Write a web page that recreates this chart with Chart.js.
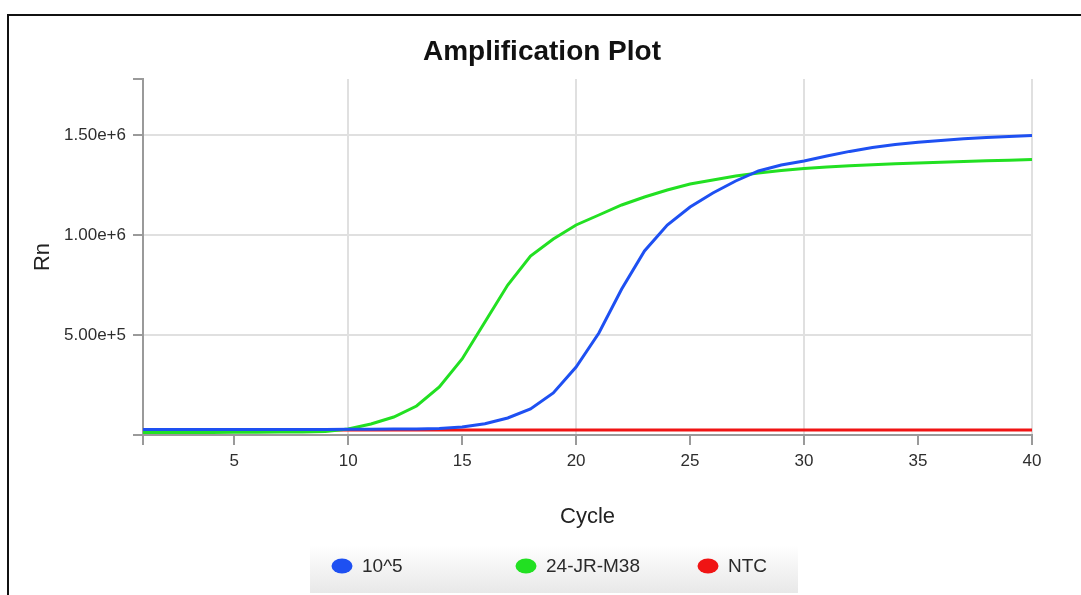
<!DOCTYPE html>
<html>
<head>
<meta charset="utf-8">
<script src="https://cdn.jsdelivr.net/npm/chart.js@4.4.1/dist/chart.umd.min.js"></script>
<style>
  html, body { margin: 0; padding: 0; background: #fff; overflow: hidden; }
  canvas { display: block; }
</style>
</head>
<body>
<canvas id="c" width="1081" height="595"></canvas>
<script>
// ---- data ----
const cycles = [1,2,3,4,5,6,7,8,9,10,11,12,13,14,15,16,17,18,19,20,21,22,23,24,25,26,27,28,29,30,31,32,33,34,35,36,37,38,39,40];
const rn10e5 = [28000,28000,28000,28000,28000,28000,28000,28000,28000,28500,29000,29500,30000,32000,40000,56000,85000,130000,210000,340000,510000,730000,920000,1050000,1140000,1210000,1270000,1320000,1350000,1370000,1395000,1418000,1437000,1452000,1464000,1473000,1481000,1488000,1493000,1498000];
const rnSample = [13000,13000,13000,13000,13500,14000,14500,15500,18000,30000,55000,90000,145000,240000,380000,565000,750000,895000,980000,1050000,1100000,1150000,1190000,1225000,1255000,1275000,1295000,1310000,1322000,1332000,1340000,1346000,1351000,1356000,1360000,1364000,1368000,1371000,1374000,1377000];
const rnNTC = [25000,25000,25000,25000,25000,25000,25000,25000,25000,25000,25000,25000,25000,25000,25000,25000,25000,25000,25000,25000,25000,25000,25000,25000,25000,25000,25000,25000,25000,25000,25000,25000,25000,25000,25000,25000,25000,25000,25000,25000];
const seriesNames = ['10^5', '24-JR-M38', 'NTC'];
const chartTitle = 'Amplification Plot';
const xTickValues = [1,5,10,15,20,25,30,35,40];
const yTickValues = [0,500000,1000000,1500000];
const yMax = 1780000;

const FONT = '"Liberation Sans", Arial, Helvetica, sans-serif';

function pts(vals) { return cycles.map((c, i) => ({ x: c, y: vals[i] })); }

const framePlugin = {
  id: 'frame',
  beforeDraw(chart) {
    const ctx = chart.ctx;
    ctx.save();
    ctx.fillStyle = '#fff';
    ctx.fillRect(0, 0, chart.width, chart.height);
    ctx.strokeStyle = '#111';
    ctx.lineWidth = 2;
    ctx.beginPath();
    ctx.moveTo(8, chart.height);
    ctx.lineTo(8, 15);
    ctx.lineTo(chart.width, 15);
    ctx.stroke();
    ctx.font = 'bold 28px ' + FONT;
    ctx.fillStyle = '#111';
    ctx.textAlign = 'center';
    ctx.textBaseline = 'middle';
    ctx.fillText(chartTitle, 542, 52);
    ctx.restore();
  }
};

const legendPlugin = {
  id: 'customLegend',
  afterDraw(chart) {
    const ctx = chart.ctx;
    ctx.save();
    const g = ctx.createLinearGradient(0, 545, 0, 593);
    g.addColorStop(0, 'rgba(255,255,255,1)');
    g.addColorStop(1, '#e8e8e8');
    ctx.fillStyle = g;
    ctx.fillRect(310, 545, 488, 48);
    const centers = [342, 526, 708];
    ctx.font = '19px ' + FONT;
    ctx.textBaseline = 'middle';
    ctx.textAlign = 'left';
    chart.data.datasets.forEach((ds, i) => {
      const cx = centers[i], cy = 566;
      ctx.fillStyle = ds.borderColor;
      ctx.beginPath();
      ctx.ellipse(cx, cy, 10.5, 7.5, 0, 0, Math.PI * 2);
      ctx.fill();
      ctx.fillStyle = '#2a2a2a';
      ctx.fillText(ds.label, cx + 20, cy + 1);
    });
    ctx.restore();
  }
};

new Chart(document.getElementById('c'), {
  type: 'line',
  data: {
    datasets: [
      { label: seriesNames[0], data: pts(rn10e5), borderColor: '#1e50f2', backgroundColor: '#1e50f2' },
      { label: seriesNames[1], data: pts(rnSample), borderColor: '#22e022', backgroundColor: '#22e022' },
      { label: seriesNames[2], data: pts(rnNTC), borderColor: '#f01414', backgroundColor: '#f01414' }
    ]
  },
  options: {
    responsive: false,
    animation: false,
    events: [],
    elements: {
      line: { borderWidth: 3, tension: 0 },
      point: { radius: 0 }
    },
    layout: { padding: { left: 0, right: 49, top: 79, bottom: 60 } },
    plugins: {
      legend: { display: false },
      tooltip: { enabled: false },
      title: { display: false }
    },
    scales: {
      x: {
        type: 'linear',
        min: 1,
        max: 40,
        afterFit(s) { s.height = 100; },
        afterBuildTicks(s) { s.ticks = xTickValues.map(v => ({ value: v })); },
        border: { color: '#9a9a9a', width: 2 },
        grid: {
          color: (c) => (c.tick && c.tick.value % 10 === 0) ? '#e0e0e0' : 'rgba(0,0,0,0)',
          lineWidth: 2,
          tickColor: '#9a9a9a',
          tickWidth: 2,
          tickLength: 10,
          drawTicks: true
        },
        ticks: {
          autoSkip: false,
          maxRotation: 0,
          padding: 6,
          color: '#2e2e2e',
          font: { family: FONT, size: 17 },
          callback: (v) => v === 1 ? '' : String(v)
        },
        title: {
          display: true,
          text: 'Cycle',
          color: '#222',
          font: { family: FONT, size: 22 },
          padding: { top: 0, bottom: 5 }
        }
      },
      y: {
        type: 'linear',
        min: 0,
        max: yMax,
        afterFit(s) { s.width = 143; },
        afterBuildTicks(s) { s.ticks = yTickValues.concat([yMax]).map(v => ({ value: v })); },
        border: { color: '#9a9a9a', width: 2 },
        grid: {
          color: (c) => (c.tick && c.tick.value !== 0 && c.tick.value !== yMax) ? '#e0e0e0' : 'rgba(0,0,0,0)',
          lineWidth: 2,
          tickColor: '#9a9a9a',
          tickWidth: 2,
          tickLength: 10,
          drawTicks: true
        },
        ticks: {
          autoSkip: false,
          padding: 7,
          color: '#2e2e2e',
          font: { family: FONT, size: 17 },
          callback: (v) => (v === 0 || v === yMax) ? '' : Number(v).toExponential(2)
        },
        title: {
          display: true,
          text: 'Rn',
          color: '#222',
          font: { family: FONT, size: 22 },
          padding: { top: 30, bottom: 0 }
        }
      }
    }
  },
  plugins: [framePlugin, legendPlugin]
});
</script>
</body>
</html>
